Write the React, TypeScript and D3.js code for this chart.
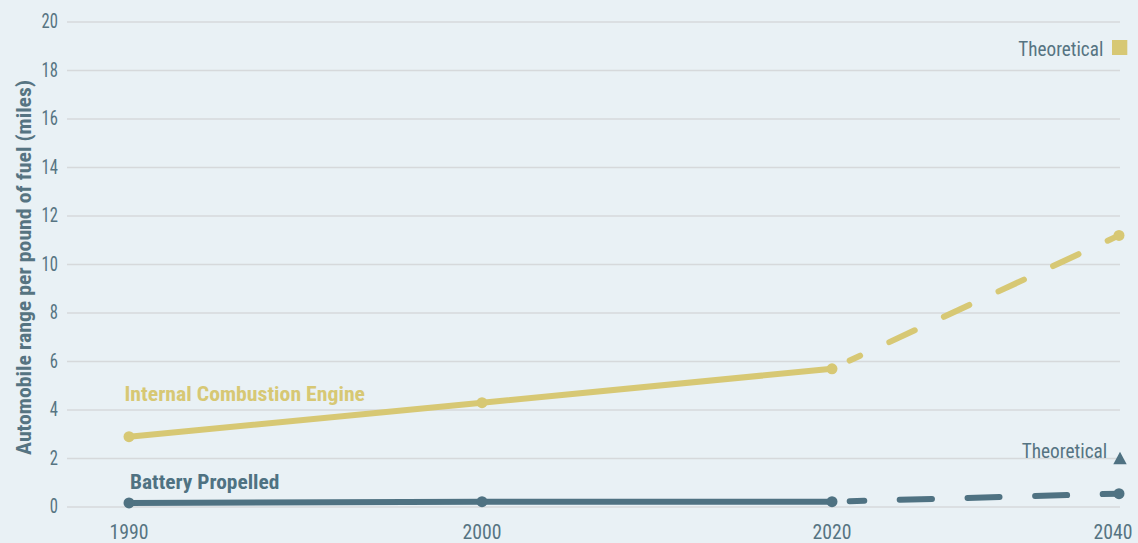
import React from "react";
import * as d3 from "d3";

const years = ["1990", "2000", "2020", "2040"];
const iceValues = [2.9, 4.3, 5.7, 11.2];
const batteryValues = [0.17, 0.22, 0.22, 0.55];
const yTicks = [0, 2, 4, 6, 8, 10, 12, 14, 16, 18, 20];

const W = 1138;
const H = 543;
const BG = "#e9f1f5";
const ICE = "#d7c874";
const BAT = "#4f7282";
const TXT = "#567482";
const GRID = "#d6d9db";
const FONT = "'Roboto Condensed', 'Liberation Sans Narrow', 'DejaVu Sans Condensed', sans-serif";
const ADJ = "spacingAndGlyphs";

export default function App() {
  const x = d3.scaleLinear().domain([0, 1, 2, 3]).range([129, 482, 832, 1119]);
  const y = d3.scaleLinear().domain([0, 20]).range([507, 22]);
  const lineAt = (vals: number[], from: number, to: number) =>
    d3
      .line<number>()
      .x((_, i) => x(i + from))
      .y((d) => y(d))(vals.slice(from, to + 1)) || "";

  return (
    <svg width={W} height={H} style={{ position: "absolute", left: 0, top: 0, display: "block" }}>
      <rect width={W} height={H} fill={BG} />
      {yTicks.map((t) => {
        const s = String(t);
        return (
          <g key={t}>
            <line x1={67} x2={1120} y1={y(t)} y2={y(t)} stroke={GRID} strokeWidth={1.3} />
            <text
              x={58}
              y={y(t) + 6}
              textAnchor="end"
              fontFamily={FONT}
              fontSize={20}
              fill={TXT}
              textLength={s.length * 8.2}
              lengthAdjust={ADJ}
            >
              {s}
            </text>
          </g>
        );
      })}
      {years.map((yr, i) => (
        <text
          key={yr}
          x={Math.min(x(i), 1113)}
          y={539}
          textAnchor="middle"
          fontFamily={FONT}
          fontSize={20.5}
          fill={TXT}
          textLength={39}
          lengthAdjust={ADJ}
        >
          {yr}
        </text>
      ))}
      <text
        transform={`translate(31,267.5) rotate(-90)`}
        textAnchor="middle"
        fontFamily={FONT}
        fontWeight="bold"
        fontSize={20.5}
        fill={TXT}
        textLength={375}
        lengthAdjust={ADJ}
      >
        Automobile range per pound of fuel (miles)
      </text>

      {/* ICE */}
      <path d={lineAt(iceValues, 0, 2)} fill="none" stroke={ICE} strokeWidth={6} strokeLinecap="round" />
      <path
        d={lineAt(iceValues, 2, 3)}
        fill="none"
        stroke={ICE}
        strokeWidth={6}
        strokeLinecap="round"
        strokeDasharray="0 19.5 11.5 32.2 28 32.2 28 32.2 28 32.2 28 32.2 28 32.2"
      />
      {iceValues.map((v, i) => (
        <circle key={i} cx={x(i)} cy={y(v)} r={5.5} fill={ICE} />
      ))}

      {/* Battery */}
      <path d={lineAt(batteryValues, 0, 2)} fill="none" stroke={BAT} strokeWidth={6} strokeLinecap="round" />
      <path
        d={lineAt(batteryValues, 2, 3)}
        fill="none"
        stroke={BAT}
        strokeWidth={6}
        strokeLinecap="round"
        strokeDasharray="0 17.7 14.6 35.4 32.3 35.6 32 35.6 32 35.6 32 35.6"
      />
      {batteryValues.map((v, i) => (
        <circle key={i} cx={x(i)} cy={y(v)} r={5.5} fill={BAT} />
      ))}

      <text
        x={124.5}
        y={401}
        fontFamily={FONT}
        fontWeight="bold"
        fontSize={20.5}
        fill={ICE}
        textLength={240.5}
        lengthAdjust={ADJ}
      >
        Internal Combustion Engine
      </text>
      <text
        x={130}
        y={488.5}
        fontFamily={FONT}
        fontWeight="bold"
        fontSize={20}
        fill={BAT}
        textLength={149.3}
        lengthAdjust={ADJ}
      >
        Battery Propelled
      </text>

      <text x={1018.3} y={56} fontFamily={FONT} fontSize={20.5} fill={TXT} textLength={85} lengthAdjust={ADJ}>
        Theoretical
      </text>
      <rect x={1112} y={40} width={15.3} height={15} fill={ICE} />
      <text x={1021.7} y={457.7} fontFamily={FONT} fontSize={20.5} fill={TXT} textLength={85.6} lengthAdjust={ADJ}>
        Theoretical
      </text>
      <path d="M1120,451.7 L1126.7,464.3 L1113.3,464.3 Z" fill={BAT} />
    </svg>
  );
}
